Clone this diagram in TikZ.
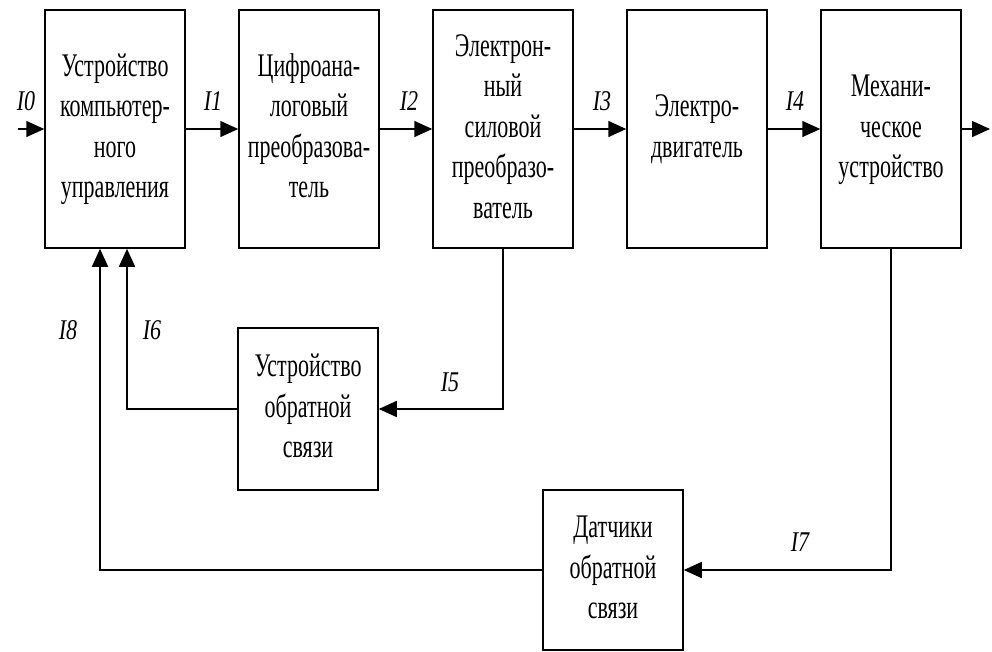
\documentclass[tikz,border=0pt]{standalone}
\usepackage{fontspec}
\usepackage{graphicx}
\setmainfont{Liberation Serif}
\usetikzlibrary{arrows.meta,calc}
\newcommand{\vyt}[1]{\scalebox{1}[1.5]{\fontsize{22}{27}\selectfont\begin{tabular}{@{}c@{}}#1\end{tabular}}}
\newcommand{\oboz}[1]{\scalebox{1}[1.3]{\fontsize{22}{26}\selectfont\itshape #1}}
\tikzset{
blok/.style={draw,line width=1.5pt,minimum width=140pt,minimum height=238pt,inner sep=0pt,align=center},
malblok/.style={blok,minimum height=162pt},
strel/.style={line width=1.5pt,-{Triangle[length=18pt,width=16pt]}},
metka/.style={inner sep=0pt}
}
\begin{document}
\begin{tikzpicture}[x=1pt,y=-1pt]%schema
\useasboundingbox (0,0) rectangle (992,651);
\node[blok] (upr) at (115,129) {\vyt{Устройство\\компьютер-\\ного\\управления}};
\node[blok] (cap) at (309,129) {\vyt{Цифроана-\\логовый\\преобразова-\\тель}};
\node[blok] (esp) at (503,129) {\vyt{Электрон-\\ный\\силовой\\преобразо-\\ватель}};
\node[blok] (dvig) at (697,129) {\vyt{Электро-\\двигатель}};
\node[blok] (mex) at (891,129) {\vyt{Механи-\\ческое\\устройство}};
\node[malblok] (uos) at (308,409) {\vyt{Устройство\\обратной\\связи}};
\node[malblok,minimum height=160pt] (dos) at (613,570) {\vyt{Датчики\\обратной\\связи}};
\coordinate (vx) at (18,129);
\coordinate (vyx) at (990,129);
%\node at (27,100) {$I_0$};
\node[metka] (l0) at (26,101) {\oboz{I0}};
\node[metka] (l1) at (213,101) {\oboz{I1}};
\node[metka] (l2) at (409,101) {\oboz{I2}};
\node[metka] (l3) at (602,101) {\oboz{I3}};
\node[metka] (l4) at (795,101) {\oboz{I4}};
\node[metka] (l5) at (450,382) {\oboz{I5}};
\node[metka] (l6) at (152,330) {\oboz{I6}};
\node[metka] (l7) at (800,542) {\oboz{I7}};
\node[metka] (l8) at (68,330) {\oboz{I8}};
\draw[strel] (vx) -- (upr);
\draw[strel] (upr) -- (cap);
\draw[strel] (cap) -- (esp);
\draw[strel] (esp) -- (dvig);
\draw[strel] (dvig) -- (mex);
\draw[strel] (mex) -- (vyx);
\draw[strel] (esp.south) |- (uos.east);
\draw[strel] (uos.west) -| ($(upr.south)+(12,0)$);
\draw[strel] (mex.south) |- (dos.east);
\draw[strel] (dos.west) -| ($(upr.south)+(-15,0)$);
\end{tikzpicture}
\end{document}
